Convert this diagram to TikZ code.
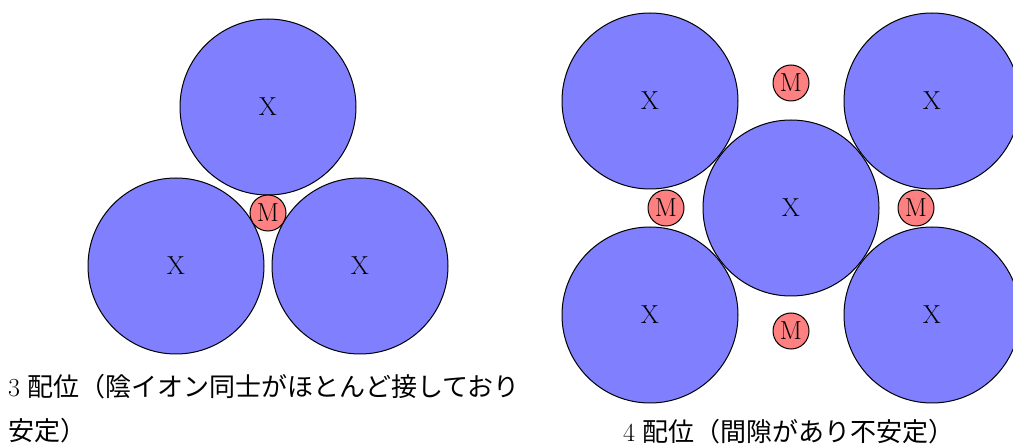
\documentclass[tikz,border=0pt]{standalone}
\usepackage{fontspec}
\newfontfamily\jp{Noto Sans CJK JP}
\begin{document}
\begin{tikzpicture}[x=1pt,y=-1pt,
  ion/.style={circle,draw=black,line width=1pt,fill=blue!50,minimum size=176pt,inner sep=0pt,
    font=\fontsize{26}{30}\selectfont},
  cat/.style={circle,draw=black,line width=1pt,fill=red!50,minimum size=36pt,inner sep=0pt,
    font=\fontsize{26}{30}\selectfont},
  captext/.style={inner sep=0pt,font=\fontsize{26}{30}\selectfont}]
\useasboundingbox (0,0) rectangle (1013,446);
% left: 3-coordination
\node[ion] (lt) at (268,107) {X};
\node[ion] (lbl) at (176,266) {X};
\node[ion] (lbr) at (360,266) {X};
\node[cat] (lm) at (268,213) {M};
\node[captext,anchor=base west] (c1) at (8,397) {3 {\jp 配位（陰イオン同士がほとんど接しており}};
\node[captext,anchor=base west] (c2) at (8,441) {{\jp 安定）}};
% right: 4-coordination
\node[ion] (rtl) at (650,101) {X};
\node[ion] (rtr) at (932,101) {X};
\node[ion] (rbl) at (650,315) {X};
\node[ion] (rbr) at (932,315) {X};
\node[ion] (rc) at (791,208) {X};
\node[cat] (mt) at (791,83) {M};
\node[cat] (ml) at (666,208) {M};
\node[cat] (mr) at (916,208) {M};
\node[cat] (mb) at (791,331) {M};
\node[captext,anchor=base] (c3) at (789,442) {4 {\jp 配位（間隙があり不安定）}};
\end{tikzpicture}
\end{document}
